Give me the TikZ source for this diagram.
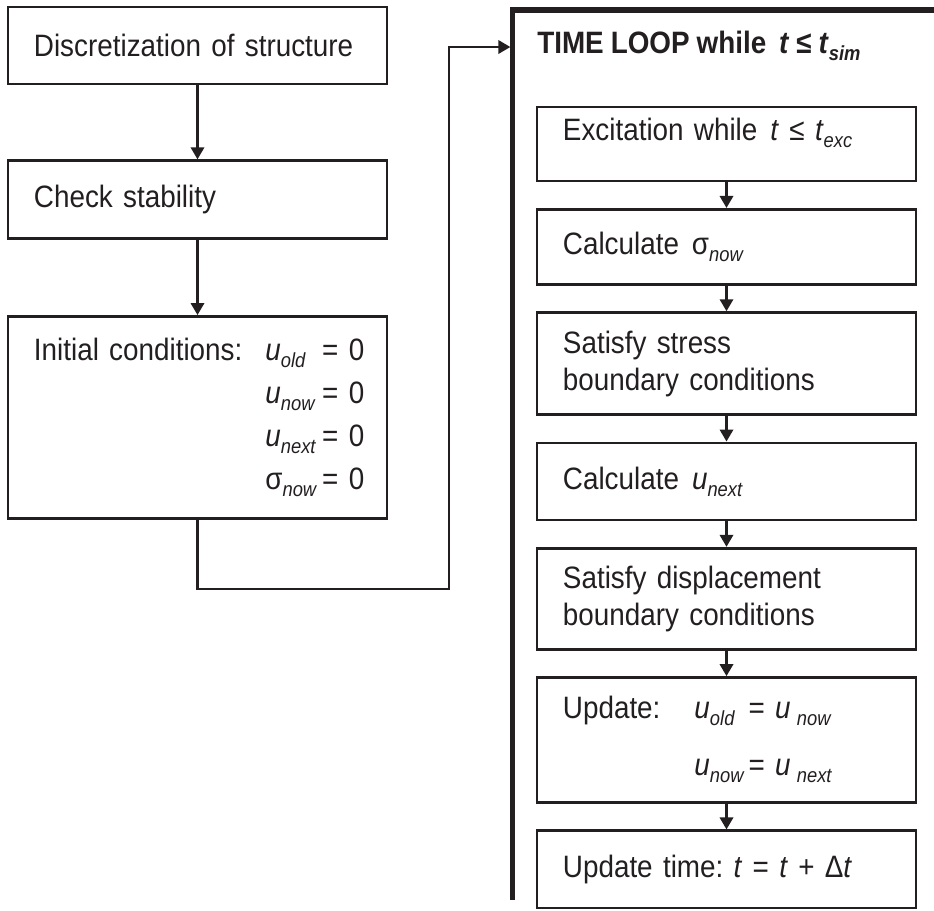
\documentclass[tikz,border=0pt]{standalone}
\usepackage{fontspec}
\setmainfont{Liberation Sans}[FakeStretch=0.9,WordSpace=0.9]
\usetikzlibrary{positioning,arrows.meta}
\definecolor{ink}{HTML}{231F20}
\newcommand{\sbs}[1]{\raisebox{-5pt}{\fontsize{14.5}{15}\selectfont\itshape #1}}
\newcommand{\vsub}[2]{\textit{#1}\sbs{#2}}
\newcommand{\wsp}{\hspace{0.42em}}

\begin{document}
\begin{tikzpicture}[x=0.025cm,y=-0.025cm,
    every node/.style={text=ink},
    font=\fontsize{22}{26.3}\selectfont,
    box/.style={draw=ink,line width=1.9pt,text width=8.175cm,inner xsep=0.65cm,align=left},
    flow/.style={draw=ink,line width=1.9pt,-{Triangle[length=0.3cm,width=0.33cm]}},
    node distance=0.64cm]
  \useasboundingbox (0,0) rectangle (934,910);
  % set-up column
  \node[box,minimum height=1.925cm] (disc) at (197.5,45.5) {Discretization of structure};
  \node[box,minimum height=1.95cm,below=1.85cm of disc] (stab) {Check stability};
  \node[box,minimum height=5.05cm,below=1.875cm of stab] (init) {%
    \begin{tabular}{@{}l@{\hskip 0.575cm}l@{\hskip 0.15cm}l@{}}
      Initial conditions: & \vsub{u}{old} & = 0\\[0.15cm]
                          & \vsub{u}{now} & = 0\\[0.15cm]
                          & \vsub{u}{next} & = 0\\[0.15cm]
                          & σ\sbs{now} & = 0
    \end{tabular}};
  \draw[flow] (disc) -- (stab);
  \draw[flow] (stab) -- (init);
  % time loop frame
  \draw[ink,line width=3.6pt] (940,10) -- (512.5,10) -- (512.5,900);
  \coordinate (loopin) at (510.4,47);
  \coordinate (bend) at (449,589);
  \draw[flow] (init) |- (bend) |- (loopin);
  \node[anchor=base west,font=\fontsize{22}{26.3}\selectfont\bfseries,inner sep=0] (title) at (537,53)
    {TIME LOOP while\wsp\textit{t} ≤ \textit{t}\raisebox{-5pt}{\fontsize{14.5}{15}\selectfont\bfseries\itshape sim}};
  % loop body
  \node[box,minimum height=1.85cm,inner ysep=0.1cm,text height=0.725cm,text depth=0.925cm] (exc) at (726.5,144)
    {Excitation while\wsp\textit{t} ≤ \vsub{t}{exc}};
  \node[box,minimum height=1.875cm,below=of exc] (sig) {Calculate\wsp σ\sbs{now}};
  \node[box,minimum height=2.55cm,below=of sig] (sbc) {Satisfy stress\\boundary conditions};
  \node[box,minimum height=1.925cm,below=of sbc] (calcu) {Calculate\wsp\vsub{u}{next}};
  \node[box,minimum height=2.525cm,below=of calcu] (dbc) {Satisfy displacement\\boundary conditions};
  \node[box,minimum height=3.125cm,below=of dbc] (upd) {%
    \begin{tabular}{@{}l@{\hskip 0.85cm}l@{\hskip 0.125cm}l@{}}
      Update: & \vsub{u}{old} & = \textit{u}\hspace{0.2em}\sbs{now}\\[0.5cm]
              & \vsub{u}{now} & = \textit{u}\hspace{0.2em}\sbs{next}
    \end{tabular}};
  \node[box,minimum height=1.925cm,below=of upd] (tupd) {Update time:\ \textit{t} = \textit{t} + Δ\textit{t}};
  \foreach \a/\b in {exc/sig,sig/sbc,sbc/calcu,calcu/dbc,dbc/upd,upd/tupd}
    \draw[flow] (\a) -- (\b);
\end{tikzpicture}
\end{document}
